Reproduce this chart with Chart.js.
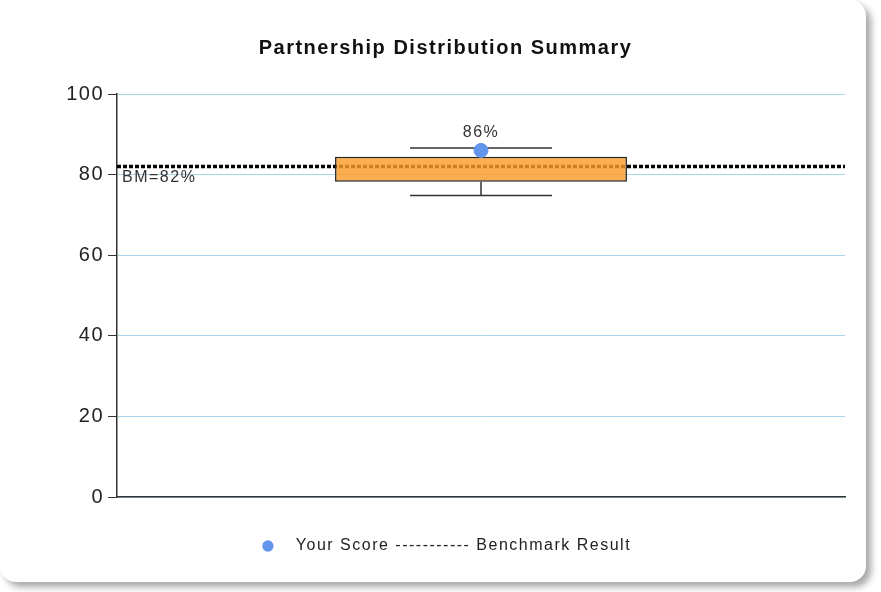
<!DOCTYPE html>
<html>
<head>
<meta charset="utf-8">
<script src="https://cdn.jsdelivr.net/npm/chart.js@4.4.1/dist/chart.umd.min.js"></script>
<style>
  html, body { margin: 0; padding: 0; background: #ffffff; }
  body { width: 881px; height: 592px; position: relative; overflow: hidden; }
  #card { position: absolute; left: 0; top: 0; width: 866px; height: 582px; border-radius: 16px;
          background: #fff; box-shadow: 5px 5px 7px rgba(0,0,0,0.35); }
  #wrap { position: absolute; left: 0; top: 0; width: 881px; height: 592px; }
</style>
</head>
<body>
<div id="card"></div>
<div id="wrap"><canvas id="c"></canvas></div>
<script>
// ---- data ----
const categories = [''];
const boxQ1 = [78.2];
const boxQ3 = [84.4];
const whiskerMin = [74.8];
const whiskerMax = [86.6];
const yourScore = [86];
const benchmark = 82;
const yTicks = [0, 20, 40, 60, 80, 100];

const FONT = "'Liberation Sans', Arial, sans-serif";

const spacingPlugin = {
  id: 'wideText',
  beforeUpdate(chart) { chart.ctx.letterSpacing = '1.5px'; },
  beforeDraw(chart) { chart.ctx.letterSpacing = '1.5px'; }
};

const boxPlugin = {
  id: 'boxExtras',
  beforeDatasetsDraw(chart) {
    const { ctx, chartArea, scales } = chart;
    const y = scales.y.getPixelForValue(benchmark);
    ctx.save();
    ctx.strokeStyle = '#000';
    ctx.lineWidth = 3.5;
    ctx.setLineDash([4, 2]);
    ctx.beginPath();
    ctx.moveTo(chartArea.left, y);
    ctx.lineTo(chartArea.right, y);
    ctx.stroke();
    ctx.restore();
  },
  afterDatasetDraw(chart, args) {
    if (args.index !== 1) return;
    const { ctx, scales } = chart;
    const meta = chart.getDatasetMeta(1);
    meta.data.forEach((bar, i) => {
      const x = bar.x;
      const capHalf = bar.width * 0.243;
      const yMin = scales.y.getPixelForValue(whiskerMin[i]);
      const yMax = scales.y.getPixelForValue(whiskerMax[i]);
      const yQ1 = scales.y.getPixelForValue(boxQ1[i]);
      const yQ3 = scales.y.getPixelForValue(boxQ3[i]);
      ctx.save();
      ctx.strokeStyle = '#333';
      ctx.lineWidth = 1.5;
      ctx.beginPath();
      ctx.moveTo(x, yQ1); ctx.lineTo(x, yMin);
      ctx.moveTo(x - capHalf, yMin); ctx.lineTo(x + capHalf, yMin);
      ctx.moveTo(x, yQ3); ctx.lineTo(x, yMax);
      ctx.moveTo(x - capHalf, yMax); ctx.lineTo(x + capHalf, yMax);
      ctx.stroke();
      ctx.restore();
    });
  },
  afterDraw(chart) {
    const { ctx, chartArea, scales } = chart;
    ctx.save();
    ctx.font = '16px ' + FONT;
    ctx.fillStyle = '#333';
    const meta = chart.getDatasetMeta(0);
    meta.data.forEach((pt, i) => {
      ctx.textAlign = 'center';
      ctx.textBaseline = 'middle';
      ctx.fillText(yourScore[i] + '%', pt.x, pt.y - 18);
    });
    const yb = scales.y.getPixelForValue(benchmark);
    ctx.textAlign = 'left';
    ctx.textBaseline = 'middle';
    ctx.fillText('BM=' + benchmark + '%', chartArea.left + 5, yb + 11);
    ctx.restore();
  }
};

new Chart(document.getElementById('c'), {
  type: 'bar',
  data: {
    labels: categories,
    datasets: [
      {
        type: 'line',
        label: 'Your Score',
        data: yourScore,
        showLine: false,
        pointRadius: 7,
        pointHoverRadius: 7,
        pointBackgroundColor: '#6495ED',
        pointBorderColor: '#6495ED',
        backgroundColor: '#6495ED',
        borderColor: '#6495ED'
      },
      {
        type: 'bar',
        label: 'Distribution',
        data: categories.map((c, i) => [boxQ1[i], boxQ3[i]]),
        backgroundColor: 'rgba(250,155,40,0.82)',
        borderColor: '#222',
        borderWidth: 1.5,
        borderSkipped: false,
        barPercentage: 0.401,
        categoryPercentage: 1.0
      }
    ]
  },
  options: {
    responsive: true,
    maintainAspectRatio: false,
    animation: false,
    layout: { padding: { left: 46, right: 36, top: 0, bottom: 28 } },
    plugins: {
      title: {
        display: true,
        text: 'Partnership Distribution Summary',
        color: '#111',
        font: { family: FONT, size: 20, weight: 'bold' },
        padding: { top: 36, bottom: 34 }
      },
      legend: {
        position: 'bottom',
        filter: (item) => item.datasetIndex === 0,
        labels: {
          usePointStyle: true,
          pointStyle: 'circle',
          boxWidth: 16,
          boxHeight: 8,
          padding: 10,
          color: '#222',
          font: { family: FONT, size: 16 },
          generateLabels: () => [{
            text: '  Your Score ----------- Benchmark Result',
            fillStyle: '#6495ED',
            strokeStyle: '#6495ED',
            lineWidth: 0,
            pointStyle: 'circle',
            datasetIndex: 0,
            fontColor: '#222'
          }]
        }
      },
      tooltip: { enabled: false }
    },
    scales: {
      x: {
        grid: { display: false },
        border: { display: true, color: '#333', width: 1.5 },
        ticks: { display: false },
        afterFit: (s) => { s.height = 31; }
      },
      y: {
        min: 0,
        max: 100,
        afterBuildTicks: (s) => { s.ticks = yTicks.map(v => ({ value: v })); },
        grid: { color: '#a9d6ea', lineWidth: 1, tickLength: 9, tickColor: '#333' },
        border: { display: true, color: '#333', width: 1.5 },
        ticks: { color: '#222', padding: 4, font: { family: FONT, size: 20 } },
        afterFit: (s) => { s.width = 71; }
      }
    }
  },
  plugins: [spacingPlugin, boxPlugin]
});
</script>
</body>
</html>
